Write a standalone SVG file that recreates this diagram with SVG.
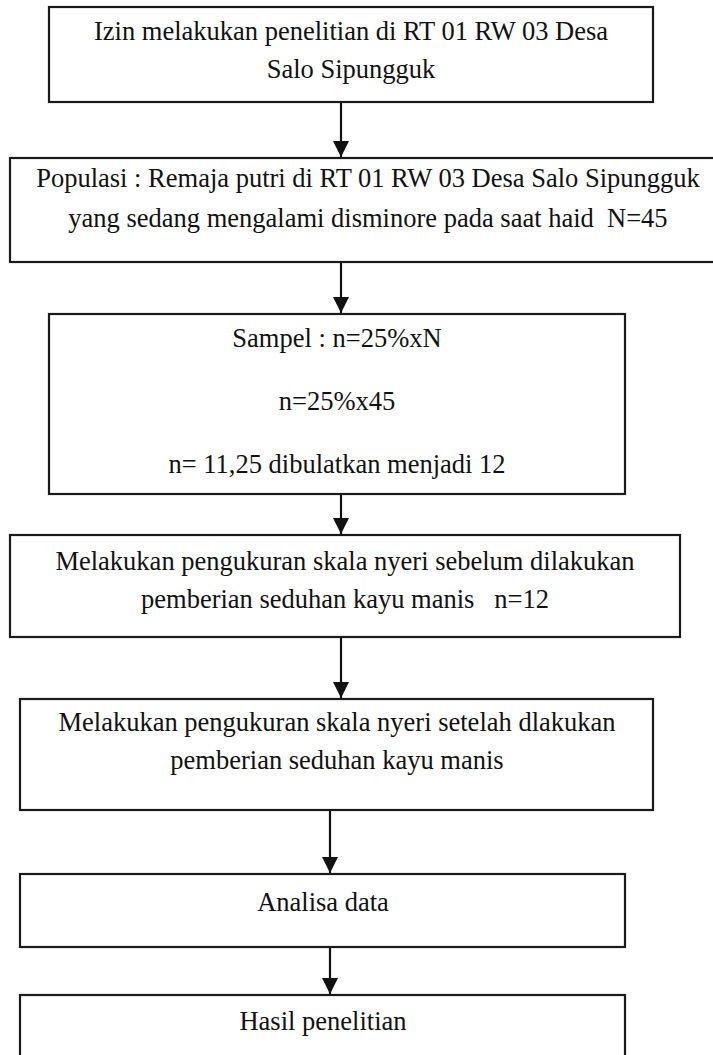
<svg xmlns="http://www.w3.org/2000/svg" width="713" height="1055" viewBox="0 0 713 1055">
<style>
.box{fill:#fff;stroke:#1a1a1a;stroke-width:2.2}
.t{font-family:"Liberation Serif","Times New Roman",serif;font-size:26.5px;text-anchor:middle;fill:#111}
.c{stroke:#111;stroke-width:2.2;fill:none}
</style>
<defs>
<marker id="ah" markerUnits="userSpaceOnUse" markerWidth="16" markerHeight="16" refX="15" refY="7.5" orient="auto" viewBox="0 0 15 15">
<path d="M0,0 L15,7.5 L0,15 z" fill="#111"/>
</marker>
</defs>
<rect width="713" height="1055" fill="#fff"/>
<g id="connectors">
<line class="c" x1="341" y1="102" x2="341" y2="157" marker-end="url(#ah)"/>
<line class="c" x1="341" y1="262" x2="341" y2="313" marker-end="url(#ah)"/>
<line class="c" x1="341" y1="494" x2="341" y2="534" marker-end="url(#ah)"/>
<line class="c" x1="341" y1="637" x2="341" y2="698" marker-end="url(#ah)"/>
<line class="c" x1="330" y1="810" x2="330" y2="873" marker-end="url(#ah)"/>
<line class="c" x1="330" y1="947" x2="330" y2="994" marker-end="url(#ah)"/>
</g>
<g id="n1">
<rect class="box" x="49" y="7" width="604" height="95"/>
<text class="t" x="351" y="40">Izin melakukan penelitian di RT 01 RW 03 Desa</text>
<text class="t" x="351" y="78">Salo Sipungguk</text>
</g>
<g id="n2">
<rect class="box" x="10" y="158" width="716" height="104"/>
<text class="t" x="368" y="187">Populasi : Remaja putri di RT 01 RW 03 Desa Salo Sipungguk</text>
<text class="t" x="368" y="227" xml:space="preserve">yang sedang mengalami disminore pada saat haid  N=45</text>
</g>
<g id="n3">
<rect class="box" x="49" y="314" width="576" height="180"/>
<text class="t" x="337" y="347">Sampel : n=25%xN</text>
<text class="t" x="337" y="410">n=25%x45</text>
<text class="t" x="337" y="473">n= 11,25 dibulatkan menjadi 12</text>
</g>
<g id="n4">
<rect class="box" x="10" y="535" width="670" height="102"/>
<text class="t" x="345" y="570">Melakukan pengukuran skala nyeri sebelum dilakukan</text>
<text class="t" x="345" y="608" xml:space="preserve">pemberian seduhan kayu manis   n=12</text>
</g>
<g id="n5">
<rect class="box" x="20" y="699" width="633" height="111"/>
<text class="t" x="337" y="731">Melakukan pengukuran skala nyeri setelah dlakukan</text>
<text class="t" x="337" y="769">pemberian seduhan kayu manis</text>
</g>
<g id="n6">
<rect class="box" x="20" y="874" width="605" height="73"/>
<text class="t" x="323" y="911">Analisa data</text>
</g>
<g id="n7">
<rect class="box" x="20" y="995" width="605" height="80"/>
<text class="t" x="323" y="1030">Hasil penelitian</text>
</g>
</svg>
